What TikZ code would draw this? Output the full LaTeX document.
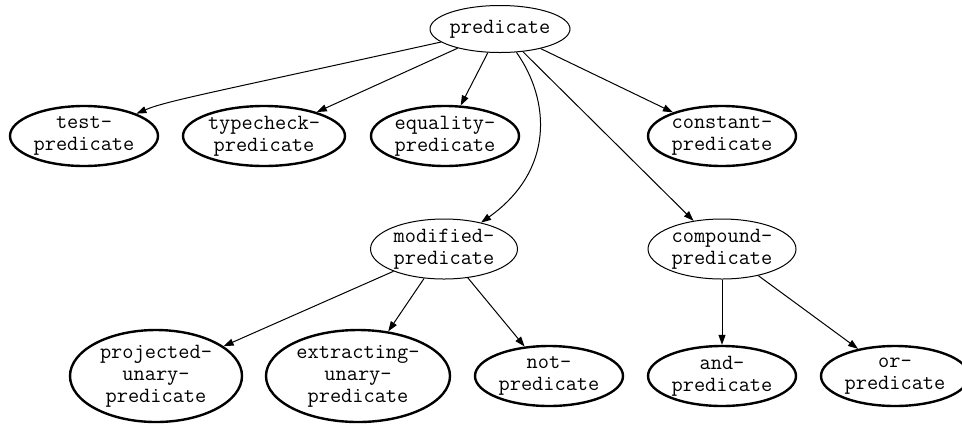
\documentclass[tikz,border=0pt]{standalone}
\usepackage{fontspec}
\usetikzlibrary{shapes.geometric,arrows.meta}

\begin{document}
\begin{tikzpicture}[x=0.75pt,y=0.75pt,yscale=-1,xscale=1,
  kind/.style={ellipse, draw, align=center, inner sep=-20pt, line width=0.75pt,
    font=\ttfamily\fontsize{16.3pt}{16.5pt}\selectfont},
  leaf/.style={kind, line width=1.8pt},
  oneline/.style={minimum width=105pt, minimum height=35.25pt},
  twoline/.style={minimum width=111pt, minimum height=45pt},
  threeline/.style={minimum width=#1, minimum height=69pt},
  isa/.style={-{Triangle[length=7.5pt,width=5.25pt]}, line width=0.75pt}]
\useasboundingbox (0,0) rectangle (962,426);

% Root
\node [kind, oneline] (pred) at (500,29) {predicate};

% First level
\node [leaf, twoline] (test) at (84,136) {test-\\predicate};
\node [leaf, twoline, minimum width=121.5pt] (tcheck) at (264,136) {typecheck-\\predicate};
\node [leaf, twoline] (equal) at (445,136) {equality-\\predicate};
\node [leaf, twoline] (const) at (722,136) {constant-\\predicate};
\node [kind, twoline, minimum width=110.25pt] (mod) at (444,249) {modified-\\predicate};
\node [kind, twoline] (comp) at (722,249) {compound-\\predicate};

% Second level
\node [leaf, threeline=129pt] (proj) at (156,376) {projected-\\unary-\\predicate};
\node [leaf, threeline=138pt] (extr) at (358,376) {extracting-\\unary-\\predicate};
\node [leaf, twoline] (notp) at (549,376) {not-\\predicate};
\node [leaf, twoline] (andp) at (722,376) {and-\\predicate};
\node [leaf, twoline] (orp) at (895,376) {or-\\predicate};

% Edges
\draw [isa] (pred) .. controls (210,93) and (166,101) .. (test);
\draw [isa] (pred) -- (tcheck);
\draw [isa] (pred) -- (equal);
\draw [isa] (pred) .. controls (550,100) and (555,170) .. (mod);
\draw [isa] (pred) -- (comp);
\draw [isa] (pred) -- (const);
\draw [isa] (mod) -- (proj);
\draw [isa] (mod) -- (extr);
\draw [isa] (mod) -- (notp);
\draw [isa] (comp) -- (andp);
\draw [isa] (comp) -- (orp);

\end{tikzpicture}
\end{document}
